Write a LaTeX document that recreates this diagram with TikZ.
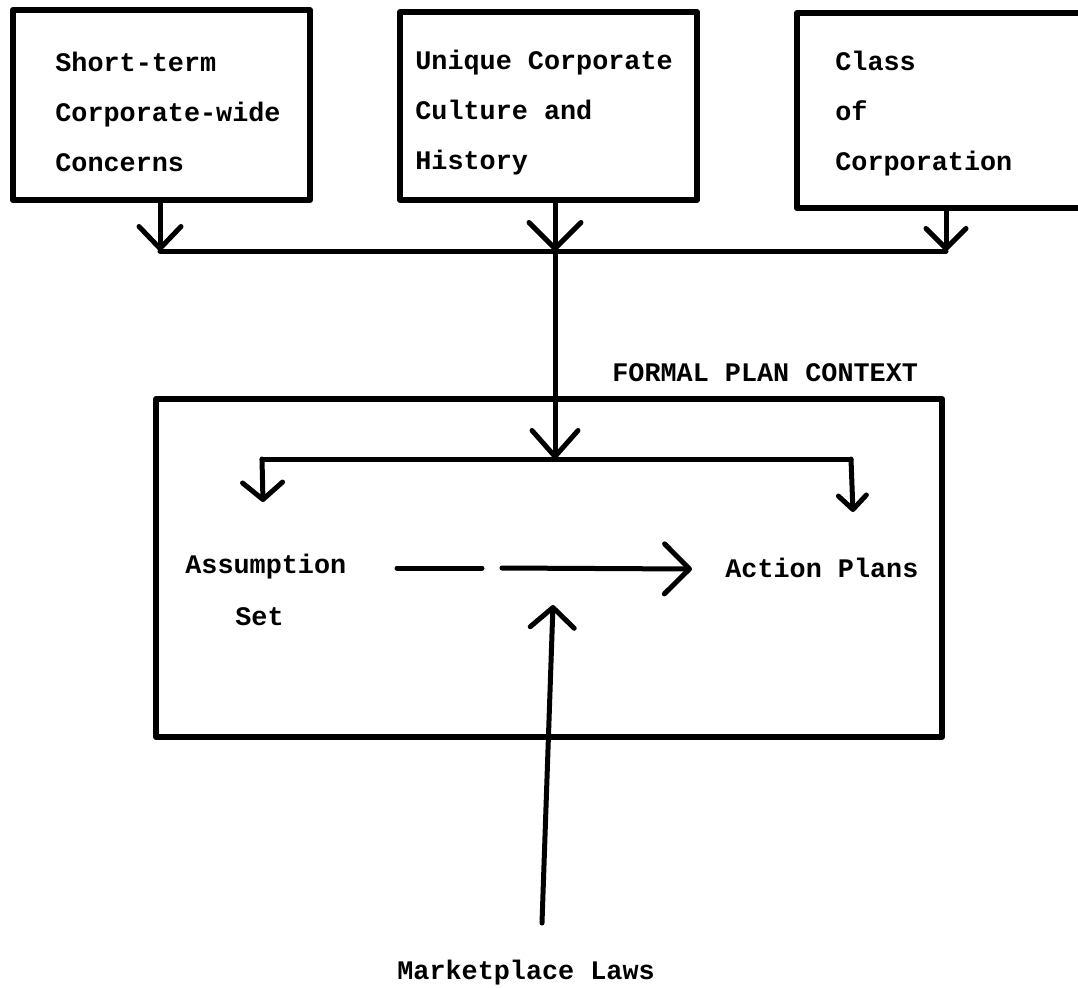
\documentclass[tikz,border=0pt]{standalone}
\usepackage{fontspec}
\setmainfont{Liberation Mono}
\usetikzlibrary{arrows.meta,fit}
\begin{document}
\begin{tikzpicture}[x=0.5pt,y=-0.5pt,
  txt/.style={font=\bfseries\fontsize{13.4}{25}\selectfont, inner sep=0pt, anchor=west, align=left},
  boxshape/.style={draw, line width=3pt, inner sep=0pt, line join=round},
  conn/.style={line width=2.5pt, line cap=round, line join=round},
  tip/.style 2 args={-{Straight Barb[length=#1pt, width=#2pt, round]}}
]
\clip (0,0) rectangle (1078,987);
\fill[white] (0,0) rectangle (1078,987);

% top boxes
\node[boxshape, fit={(13,10) (310,200)}] (b1) {};
\node[boxshape, fit={(400,12) (697,200)}] (b2) {};
\node[boxshape, fit={(797,13) (1110,208)}] (b3) {};

\node[txt] (t1) at (55,112) {Short-term\\Corporate-wide\\Concerns};
\node[txt] (t2) at (415,113) {Unique Corporate\\Culture and\\History};
\node[txt] (t3) at (835,114) {Class\\of\\Corporation};

% upper bus
\coordinate (busL) at (160,251);
\coordinate (busM) at (555,251);
\coordinate (busR) at (946,251);
\draw[conn] (busL) -- (busR);
\draw[conn, tip={11}{21}] (b1.south -| busL) -- (busL);
\draw[conn, tip={13}{26}] (b2.south -| busM) -- (busM);
\draw[conn, tip={10}{20}] (b3.south -| busR) -- (busR);

% formal plan context
\node[txt] (fpc) at (612,373) {FORMAL PLAN CONTEXT};
\node[boxshape, fit={(156,399) (942,737)}] (ctx) {};

% inner bus
\coordinate (inL) at (262,459);
\coordinate (inM) at (555,459);
\coordinate (inR) at (851,459);
\coordinate (tipL) at (263,502);
\coordinate (tipR) at (853,512);
\draw[conn, tip={13}{23}] (busM) -- (inM);
\draw[conn] (inL) -- (inR);
\draw[conn, tip={8.5}{20}] (inL) -- (tipL);
\draw[conn, tip={7}{14}] (inR) -- (tipR);

% inner texts
\node[txt] (asm) at (185,567) {Assumption};
\node[txt] (set) at (235,617) {Set};
\node[txt] (act) at (725,568) {Action Plans};

% horizontal arrow (with a gap)
\coordinate (h1) at (397,568);
\coordinate (h2) at (482,568);
\coordinate (h3) at (502,568);
\coordinate (h4) at (692,569);
\draw[conn] (h1) -- (h2);
\draw[conn, tip={12.5}{25}] (h3) -- (h4);

% marketplace laws
\node[txt] (mkt) at (397,973) {Marketplace Laws};
\coordinate (upS) at (542,923);
\coordinate (upT) at (553,605);
\draw[conn, tip={10}{22}] (upS) -- (upT);
\end{tikzpicture}
\end{document}
